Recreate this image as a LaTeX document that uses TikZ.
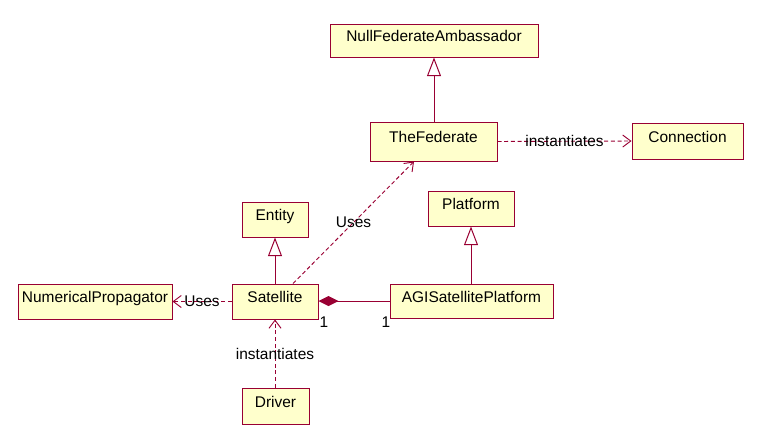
\documentclass[tikz,border=0pt]{standalone}
\usepackage{fontspec}
\setmainfont{Liberation Sans}
\usetikzlibrary{arrows.meta,calc}
\definecolor{umlline}{RGB}{153,0,51}
\definecolor{umlfill}{RGB}{255,255,204}
\tikzset{
  cls/.style={draw=umlline, fill=umlfill, line width=0.75pt, inner sep=0pt,
    text height=8pt, text depth=6pt, font=\fontsize{11.6}{13}\selectfont},
  gen/.style={draw=umlline, line width=0.75pt,
    -{Triangle[open, fill=white, length=14pt, width=10.5pt]}},
  dep/.style={draw=umlline, line width=0.7pt, dash pattern=on 3pt off 2pt,
    -{Straight Barb[length=6pt, width=9pt]}},
  comp/.style={draw=umlline, line width=0.75pt,
    {Diamond[length=15pt, width=7.5pt, fill=umlline]}-},
  lbl/.style={font=\fontsize{11.6}{13}\selectfont, inner sep=1pt},
}
\begin{document}
\begin{tikzpicture}[x=0.75pt, y=-0.75pt]
\useasboundingbox (0,0) rectangle (764,446);
\node[cls, minimum width=156pt, minimum height=24.75pt] (NFA) at (434,40.5) {NullFederateAmbassador};
\node[cls, minimum width=95.25pt, minimum height=29.25pt] (TF) at (433.5,141.5) {TheFederate};
\node[cls, minimum width=83.25pt, minimum height=27pt] (Conn) at (687.5,141) {Connection};
\node[cls, minimum width=64.5pt, minimum height=26.25pt] (Plat) at (471,208.5) {Platform};
\node[cls, minimum width=49.5pt, minimum height=26.25pt] (Ent) at (275,219.5) {Entity};
\node[cls, minimum width=115.5pt, minimum height=26.25pt] (NP) at (95,301.5) {NumericalPropagator};
\node[cls, minimum width=64.5pt, minimum height=26.25pt] (Sat) at (275,301.5) {Satellite};
\node[cls, minimum width=122.25pt, minimum height=25.5pt] (AGI) at (471.5,301) {AGISatellitePlatform};
\node[cls, minimum width=50.25pt, minimum height=27pt] (Drv) at (275.5,406) {Driver};

\draw[gen] (TF.north -| NFA) -- (NFA.south);
\draw[gen] (Sat.north) -- (Ent.south);
\draw[gen] (AGI.north -| Plat) -- (Plat.south);

\draw[dep] (TF.east) -- node[lbl]{instantiates} (Conn.west);
\draw[dep] ($(Sat.north)+(18,0)$) -- node[lbl]{Uses} ($(TF.south)+(-19.5,0)$);
\draw[dep] (Sat.west) -- node[lbl]{Uses} (NP.east);
\draw[dep] (Drv.north -| Sat) -- node[lbl]{instantiates} (Sat.south);

\draw[comp] (Sat.east |- AGI.west) -- (AGI.west);
\node[lbl] (m1) at (324,322) {1};
\node[lbl] (m2) at (386,322) {1};
\end{tikzpicture}
\end{document}
